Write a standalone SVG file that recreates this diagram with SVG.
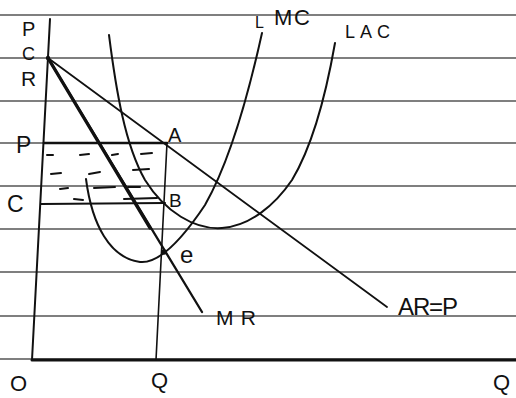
<svg xmlns="http://www.w3.org/2000/svg" width="516" height="398" viewBox="0 0 516 398">
<style>
.rule{stroke:#555;stroke-width:1.3;fill:none}
.ink{stroke:#111;fill:none;stroke-linecap:round;stroke-linejoin:round}
.dash{stroke:#111;stroke-width:2;stroke-linecap:round}
text{font-family:"Liberation Sans","DejaVu Sans",sans-serif;fill:#111}
</style>
<rect width="516" height="398" fill="#fff"/>
<g id="paper-rules">
<line class="rule" x1="0" y1="15" x2="516" y2="15"/>
<line class="rule" x1="0" y1="58" x2="516" y2="58"/>
<line class="rule" x1="0" y1="101" x2="516" y2="101"/>
<line class="rule" x1="0" y1="143" x2="516" y2="143"/>
<line class="rule" x1="0" y1="186" x2="516" y2="186"/>
<line class="rule" x1="0" y1="229" x2="516" y2="229"/>
<line class="rule" x1="0" y1="272" x2="516" y2="272"/>
<line class="rule" x1="0" y1="316" x2="516" y2="316"/>
<line class="rule" x1="0" y1="359" x2="516" y2="359"/>
</g>
<g id="axes">
<line class="ink" x1="50" y1="19" x2="32" y2="360" stroke-width="2"/>
<line class="ink" x1="32" y1="360" x2="516" y2="360" stroke-width="3"/>
</g>
<g id="connectors">
<line id="AR" class="ink" x1="48" y1="58" x2="387" y2="307" stroke-width="1.8"/>
<line id="MR-top" class="ink" x1="48" y1="58" x2="150" y2="228" stroke-width="3.4"/>
<line id="MR" class="ink" x1="48" y1="58" x2="202" y2="312" stroke-width="2.3"/>
<line id="Q-line" class="ink" x1="167" y1="143" x2="156" y2="360" stroke-width="1.6"/>
<line id="P-line" class="ink" x1="44" y1="143" x2="167" y2="143" stroke-width="2.6"/>
<line id="C-line" class="ink" x1="41" y1="204" x2="165" y2="203" stroke-width="2.2"/>
</g>
<g id="LMC">
<path class="ink" stroke-width="2" d="M86,179 C92,225 110,258 140,262 C160,264 185,235 205,205 C225,170 245,110 262,33"/>
</g>
<g id="LAC">
<path class="ink" stroke-width="2" d="M109,35 C116,90 125,145 145,180 C165,212 195,230 222,228 C250,226 275,205 292,180 C310,150 325,100 335,43"/>
</g>
<g id="profit-area">
<line class="dash" x1="47" y1="155" x2="53" y2="155"/>
<line class="dash" x1="80" y1="155" x2="89" y2="154"/>
<line class="dash" x1="112" y1="155" x2="118" y2="154"/>
<line class="dash" x1="141" y1="154" x2="152" y2="153"/>
<line class="dash" x1="51" y1="174" x2="61" y2="173"/>
<line class="dash" x1="89" y1="174" x2="100" y2="172"/>
<line class="dash" x1="133" y1="170" x2="149" y2="169"/>
<line class="dash" x1="60" y1="189" x2="68" y2="188"/>
<line class="dash" x1="94" y1="188" x2="115" y2="187" stroke-width="2.6"/>
<line class="dash" x1="128" y1="187" x2="140" y2="187"/>
<line class="dash" x1="74" y1="199" x2="83" y2="200"/>
<line class="dash" x1="124" y1="199" x2="157" y2="198"/>
</g>
<g id="points">
<circle cx="48" cy="58" r="2.2" fill="#111"/>
<circle cx="164" cy="252" r="2.8" fill="#111"/>
</g>
<g id="labels">
<text x="22" y="36" font-size="20">P</text>
<text x="22" y="60" font-size="18">C</text>
<text x="21" y="86" font-size="21">R</text>
<text x="16" y="153" font-size="23">P</text>
<text x="168" y="142" font-size="20">A</text>
<text x="7" y="212" font-size="23">C</text>
<text x="169" y="207" font-size="19">B</text>
<text x="180" y="263" font-size="24">e</text>
<text x="255" y="28" font-size="16">L</text>
<text x="274" y="25" font-size="22" textLength="36">MC</text>
<text x="345" y="38" font-size="18" textLength="45">LAC</text>
<text x="216" y="325" font-size="21" textLength="40">MR</text>
<text x="398" y="315" font-size="24" textLength="60">AR=P</text>
<text x="151" y="388" font-size="22">Q</text>
<text x="493" y="390" font-size="22">Q</text>
<text x="10" y="391" font-size="22">O</text>
</g>
</svg>
